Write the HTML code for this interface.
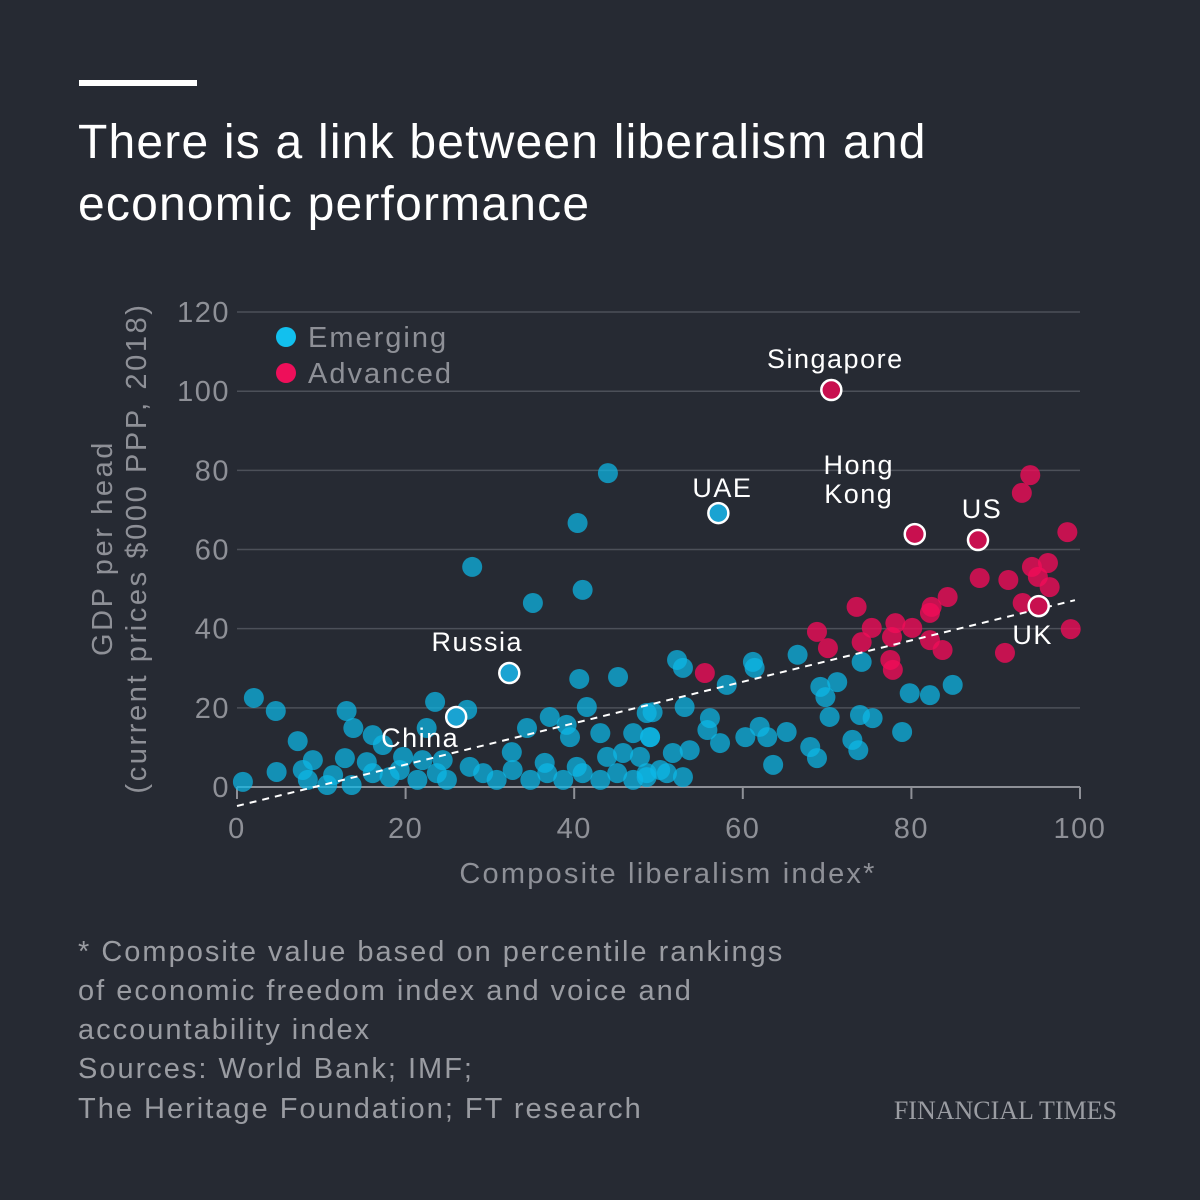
<!DOCTYPE html>
<html><head><meta charset="utf-8"><style>
body{margin:0;background:#262a33;width:1200px;height:1200px;overflow:hidden;font-family:"Liberation Sans",sans-serif}
svg{display:block}
</style></head><body>
<svg width="1200" height="1200">
<rect width="1200" height="1200" fill="#262a33"/>
<rect x="79" y="80" width="118" height="6" fill="#fff"/>
<text x="78" y="158" fill="#fff" font-size="48" letter-spacing="1.2">There is a link between liberalism and</text>
<text x="78" y="220" fill="#fff" font-size="48" letter-spacing="1.2">economic performance</text>
<g id="grid"></g>
<g id="plot"></g>
<text transform="translate(112,548) rotate(-90)" text-anchor="middle" fill="#8e9097" font-size="29" letter-spacing="2.6"><tspan x="0" y="0">GDP per head</tspan><tspan x="0" y="34">(current prices $000 PPP, 2018)</tspan></text>
<text x="668" y="883" text-anchor="middle" fill="#8e9097" font-size="29" letter-spacing="2.2">Composite liberalism index*</text>
<circle cx="286" cy="337" r="10" fill="#12c0ee"/>
<text x="308" y="347" fill="#8e9097" font-size="29" letter-spacing="2">Emerging</text>
<circle cx="286" cy="373" r="10" fill="#ee0f5a"/>
<text x="308" y="383" fill="#8e9097" font-size="29" letter-spacing="2">Advanced</text>
<g fill="#9a9ca2" font-size="29" letter-spacing="2">
<text x="78" y="961">* Composite value based on percentile rankings</text>
<text x="78" y="1000">of economic freedom index and voice and</text>
<text x="78" y="1039">accountability index</text>
<text x="78" y="1078">Sources: World Bank; IMF;</text>
<text x="78" y="1118">The Heritage Foundation; FT research</text>
</g>
<text x="1117" y="1119" text-anchor="end" fill="#9a9ca2" font-family="Liberation Serif,serif" font-size="26">FINANCIAL TIMES</text>
</svg>
<script>
const yTicks=[0,20,40,60,80,100,120];
const xTicks=[0,20,40,60,80,100];
const emergingX=[57.1,52.2,52.9,61.2,61.4,58.1,66.5,74.1,69.2,71.2,69.8,79.8,82.2,84.9,70.3,73.9,75.4,78.9,73.0,73.7,68.0,68.8,63.6,65.2,62.0,60.3,62.9,56.1,57.3,53.1,48.6,53.7,51.7,55.8,51.0,52.9,48.6,49.0,27.9,35.1,41.0,40.4,44.0,32.3,40.6,45.2,26.0,27.3,23.5,2.0,4.6,13.0,13.8,7.2,41.5,37.1,39.1,34.4,39.5,43.1,49.3,47.0,49.0,32.6,36.5,40.3,43.9,45.8,47.8,16.1,17.3,22.5,9.0,12.8,15.4,19.7,22.0,24.4,4.7,0.7,7.8,8.4,10.7,11.4,13.6,16.1,18.1,19.3,21.4,23.7,24.9,27.6,29.2,30.8,32.7,34.8,36.8,38.7,41.0,43.1,45.1,47.0,48.6,50.2];
const emergingY=[69.2,32.1,30.1,31.6,30.1,25.8,33.4,31.6,25.3,26.5,22.7,23.7,23.2,25.8,17.7,18.2,17.4,13.9,11.9,9.3,10.1,7.3,5.6,13.9,15.2,12.6,12.6,17.4,11.1,20.2,18.7,9.3,8.6,14.4,3.5,2.5,2.5,12.6,55.6,46.5,49.8,66.7,79.3,28.8,27.3,27.8,17.7,19.5,21.5,22.5,19.2,19.2,14.9,11.6,20.2,17.7,15.7,14.9,12.6,13.6,18.9,13.6,12.6,8.8,6.1,5.1,7.6,8.6,7.6,13.1,10.6,14.9,6.8,7.3,6.3,7.6,6.8,6.8,3.8,1.3,4.3,1.8,0.5,3.0,0.5,3.5,2.5,4.3,1.8,3.5,1.8,5.1,3.5,1.8,4.3,1.8,3.5,1.8,3.5,1.8,3.5,1.8,3.5,4.3];
const advancedX=[94.1,93.1,98.5,88.1,91.5,94.3,96.2,95.0,96.4,93.2,98.9,91.1,84.3,82.4,82.2,83.7,82.2,80.1,78.1,77.7,77.5,77.8,75.3,74.1,73.5,70.1,68.8,55.5,70.5,80.4,87.9,95.1];
const advancedY=[78.8,74.3,64.4,52.8,52.3,55.6,56.6,53.1,50.5,46.5,39.9,33.9,48.0,45.5,44.0,34.6,37.1,40.2,41.4,37.9,32.1,29.6,40.2,36.6,45.5,35.1,39.2,28.8,100.3,63.9,62.4,45.7];
const labelNames=["Singapore","Hong Kong","US","UK","UAE","Russia","China"];
const labelX=[70.5,80.4,87.9,95.1,57.1,32.3,26.0];
const labelY=[100.3,63.9,62.4,45.7,69.2,28.8,17.7];
const trendX=[0,99.4];const trendY=[-4.8,47.2];
const NS="http://www.w3.org/2000/svg";
const sx=v=>237+v*8.43, sy=v=>787-v*3.958;
const grid=document.getElementById('grid'),plot=document.getElementById('plot');
function mk(tag,attrs,parent){const e=document.createElementNS(NS,tag);for(const k in attrs)e.setAttribute(k,attrs[k]);parent.appendChild(e);return e;}
yTicks.forEach(t=>{
 const l=mk('line',{x1:237,x2:1080,y1:sy(t),y2:sy(t),stroke:t===0?'#8e9097':'#4c5059','stroke-width':t===0?2:1.5},grid);
 
 
 const tx=mk('text',{x:230,y:sy(t)+10,'text-anchor':'end',fill:'#8e9097','font-size':29,'letter-spacing':1.5},grid);tx.textContent=t;
 
 
});
xTicks.forEach(t=>{
 const l=mk('line',{x1:sx(t),x2:sx(t),y1:787,y2:799,stroke:'#8e9097','stroke-width':2},grid);
 
 
 const tx=mk('text',{x:sx(t),y:838,'text-anchor':'middle',fill:'#8e9097','font-size':29,'letter-spacing':1.5},grid);tx.textContent=t;
 
 
});
emergingX.forEach((x,i)=>{
 const c=mk('circle',{cx:sx(x),cy:sy(emergingY[i]),r:10,fill:'#0cb8e8','fill-opacity':0.72},plot);
 
 
});
advancedX.forEach((x,i)=>{
 const c=mk('circle',{cx:sx(x),cy:sy(advancedY[i]),r:10,fill:'#f20c58','fill-opacity':0.78},plot);
 
 
});
const tl=mk('line',{x1:sx(trendX[0]),y1:sy(trendY[0]),x2:sx(trendX[1]),y2:sy(trendY[1]),stroke:'#fff','stroke-width':2,'stroke-dasharray':'7,6'},plot);


const off=[[4,-22],[-56,-32],[4,-22],[-6,38],[4,-16],[-32,-22],[-36,30]];
labelNames.forEach((n,i)=>{
 const col=i<4?'#c8104f':'#1aa3d2';
 const c=mk('circle',{cx:sx(labelX[i]),cy:sy(labelY[i]),r:10,fill:col,stroke:'#fff','stroke-width':2.5},plot);
 
 
 const t=mk('text',{x:sx(labelX[i])+off[i][0],y:sy(labelY[i])+off[i][1],'text-anchor':'middle',fill:'#fff','font-size':27,'letter-spacing':1.5},plot);
 if(n==="Hong Kong"){t.innerHTML='<tspan x="'+(sx(labelX[i])-56)+'" dy="-28">Hong</tspan><tspan x="'+(sx(labelX[i])-56)+'" dy="29">Kong</tspan>';}
 else t.textContent=n;
 
 
});
</script>
</body></html>
